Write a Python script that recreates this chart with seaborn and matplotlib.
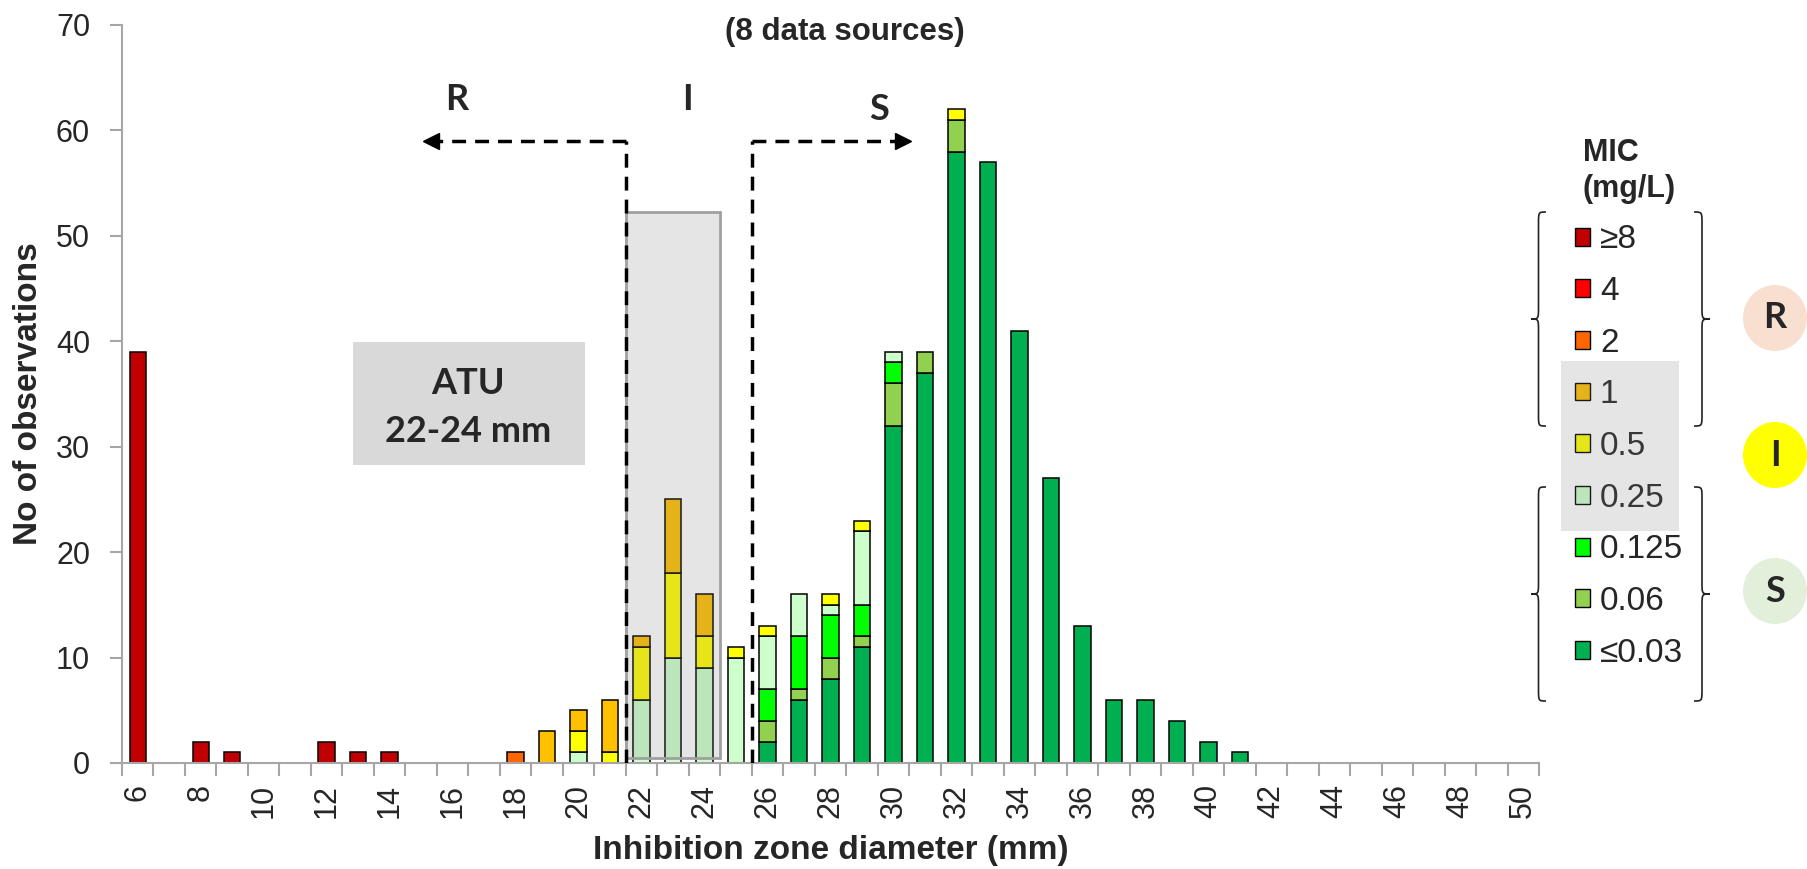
import numpy as np
import pandas as pd
import matplotlib
matplotlib.use("Agg")
import matplotlib.pyplot as plt
from matplotlib import font_manager
from matplotlib.patches import Rectangle, Ellipse, PathPatch, Patch
from matplotlib.path import Path
import seaborn as sns

# ---- data: number of isolates per inhibition zone diameter, split by MIC (mg/L) ----
diameters = list(range(6, 51))
mic_levels = ["≥8", "4", "2", "1", "0.5", "0.25", "0.125", "0.06", "≤0.03"]
mic_colors = ["#C00000", "#FF0000", "#FF6600", "#FFC000", "#FFFF00",
              "#CCFFCC", "#00FF00", "#92D050", "#00B050"]

counts_ge8 = {6: 39, 8: 2, 9: 1, 12: 2, 13: 1, 14: 1}
counts_4 = {}
counts_2 = {18: 1}
counts_1 = {19: 3, 20: 2, 21: 5, 22: 1, 23: 7, 24: 4}
counts_05 = {20: 2, 21: 1, 22: 5, 23: 8, 24: 3, 25: 1, 26: 1, 28: 1, 29: 1, 32: 1}
counts_025 = {20: 1, 22: 6, 23: 10, 24: 9, 25: 10, 26: 5, 27: 4, 28: 1, 29: 7, 30: 1}
counts_0125 = {26: 3, 27: 5, 28: 4, 29: 3, 30: 2}
counts_006 = {26: 2, 27: 1, 28: 2, 29: 1, 30: 4, 31: 2, 32: 3}
counts_le003 = {26: 2, 27: 6, 28: 8, 29: 11, 30: 32, 31: 37, 32: 58, 33: 57,
                34: 41, 35: 27, 36: 13, 37: 6, 38: 6, 39: 4, 40: 2, 41: 1}

tick_labels = [str(d) for d in range(6, 51, 2)]

series = [counts_ge8, counts_4, counts_2, counts_1, counts_05,
          counts_025, counts_0125, counts_006, counts_le003]
rows = []
for level, table in zip(mic_levels, series):
    for d, n in table.items():
        rows.append({"diameter": d, "mic": level, "count": n})
df = pd.DataFrame(rows)

# ---- fonts ----
sns.set_style("ticks")
plt.rcParams["font.family"] = ["Liberation Sans", "DejaVu Sans"]
installed = {f.name for f in font_manager.fontManager.ttflist}
if "Liberation Sans Narrow" in installed:
    label_font, label_size = "Liberation Sans Narrow", 29
else:
    label_font, label_size = "Liberation Sans", 24
callout_font = "Lato" if "Lato" in installed else "DejaVu Sans"

W, H = 1807, 869
fig = plt.figure(figsize=(W / 100, H / 100), dpi=100)
ax = fig.add_axes([122 / W, 106 / H, 1417 / W, 738 / H])

palette = dict(zip(mic_levels, mic_colors))
sns.histplot(data=df, x="diameter", hue="mic", weights="count",
             hue_order=mic_levels, palette=palette, multiple="stack",
             discrete=True, shrink=0.52, alpha=1, edgecolor="black",
             linewidth=1.1, legend=False, ax=ax)

# hide empty stack segments
for p in ax.patches:
    if p.get_height() == 0:
        p.set_visible(False)

ax.set_xlim(5.5, 50.5)
ax.set_ylim(0, 70)

axis_grey = "#A6A6A6"
for side in ("top", "right"):
    ax.spines[side].set_visible(False)
for side in ("left", "bottom"):
    ax.spines[side].set_color(axis_grey)
    ax.spines[side].set_linewidth(1.5)

ax.set_yticks(range(0, 71, 10))
ax.set_xticks(range(6, 51, 2))
ax.set_xticklabels(tick_labels, rotation=90)
ax.set_xticks(np.arange(5.5, 51, 1), minor=True)
ax.tick_params(axis="y", length=9, width=1.5, color=axis_grey, labelsize=22, pad=14)
ax.tick_params(axis="x", which="major", length=0, labelsize=22, pad=15)
ax.tick_params(axis="x", which="minor", length=9, width=1.5, color=axis_grey)

ax.set_xlabel("Inhibition zone diameter (mm)", fontfamily=[label_font, "DejaVu Sans"],
              fontsize=label_size, fontweight="bold")
ax.set_ylabel("No of observations", fontfamily=[label_font, "DejaVu Sans"],
              fontsize=label_size, fontweight="bold")
ax.xaxis.set_label_coords(0.5, -0.098)
ax.yaxis.set_label_coords(-0.055, 0.5)

ax.text(28.45, 69.3, "(8 data sources)", ha="center", va="center",
        fontsize=22.5, fontweight="bold")

# area of technical uncertainty
ax.add_patch(Rectangle((21.5, 0.5), 3, 51.8, facecolor=(0.5, 0.5, 0.5, 0.2),
                       edgecolor="#A0A0A0", linewidth=2, zorder=3))
ax.add_patch(Rectangle((12.85, 28.3), 7.35, 11.6, facecolor="#D9D9D9",
                       edgecolor="none", zorder=2))
ax.text(16.5, 36.0, "ATU", ha="center", va="center", fontsize=26,
        fontweight="bold", fontfamily=callout_font, zorder=4)
ax.text(16.5, 31.4, "22-24 mm", ha="center", va="center", fontsize=26,
        fontweight="bold", fontfamily=callout_font, zorder=4)

# breakpoint arrows
dash = (0, (4, 2.6))
y_arrow = 59
ax.plot([21.5, 21.5], [0, y_arrow], color="black", lw=2.5, ls=dash, zorder=5)
ax.plot([21.5, 15.5], [y_arrow, y_arrow], color="black", lw=2.5, ls=dash, zorder=5)
ax.plot([15.3], [y_arrow], marker="<", ms=11, color="black", zorder=5)
ax.plot([25.5, 25.5], [0, y_arrow], color="black", lw=2.5, ls=dash, zorder=5)
ax.plot([25.5, 30.1], [y_arrow, y_arrow], color="black", lw=2.5, ls=dash, zorder=5)
ax.plot([30.3], [y_arrow], marker=">", ms=11, color="black", zorder=5)

for label, (x, y) in {"R": (16.14, 62.9), "I": (23.47, 62.9), "S": (29.54, 62.0)}.items():
    ax.text(x, y, label, ha="center", va="center", fontsize=26,
            fontweight="bold", fontfamily=callout_font)

# ---- legend panel (pixel coordinates, y downwards) ----
ov = fig.add_axes([0, 0, 1, 1], zorder=10)
ov.set_xlim(0, W)
ov.set_ylim(H, 0)
ov.axis("off")
ov.patch.set_alpha(0)

handles = [Patch(facecolor=c, edgecolor="black", linewidth=1.0) for c in mic_colors]
leg = ov.legend(handles, mic_levels, loc="upper left", bbox_to_anchor=(1575, 138),
                bbox_transform=ov.transData, frameon=False, fontsize=24,
                handlelength=0.45, handleheight=0.45, handletextpad=0.3,
                labelspacing=0.62, borderpad=0, borderaxespad=0,
                title="MIC\n(mg/L)",
                title_fontproperties={"weight": "bold", "size": 22})
leg.get_title().set_linespacing(1.25)
leg.set_zorder(5)
ov.add_patch(Rectangle((1561, 361), 118, 170, facecolor=(0.5, 0.5, 0.5, 0.2),
                       edgecolor="none", zorder=6))


def brace(x_arm, x_tip, y0, y1, r=12):
    xm = (x_arm + x_tip) / 2
    ym = (y0 + y1) / 2
    verts = [(x_arm, y0), (xm, y0), (xm, y0), (xm, y0 + r),
             (xm, ym - r), (xm, ym), (xm, ym), (x_tip, ym),
             (xm, ym), (xm, ym), (xm, ym + r),
             (xm, y1 - r), (xm, y1), (xm, y1), (x_arm, y1)]
    codes = [Path.MOVETO, Path.CURVE4, Path.CURVE4, Path.CURVE4,
             Path.LINETO, Path.CURVE4, Path.CURVE4, Path.CURVE4,
             Path.CURVE4, Path.CURVE4, Path.CURVE4,
             Path.LINETO, Path.CURVE4, Path.CURVE4, Path.CURVE4]
    ov.add_patch(PathPatch(Path(verts, codes), facecolor="none",
                           edgecolor="#222222", linewidth=1.2, zorder=7))


brace(1546, 1531, 212, 426)
brace(1694, 1710, 212, 426)
brace(1546, 1531, 487, 701)
brace(1694, 1710, 487, 701)

for label, yc, col in [("R", 318, "#F9DFD0"), ("I", 455, "#FFFF00"), ("S", 591, "#E2EFDA")]:
    ov.add_patch(Ellipse((1775, yc), 64, 66, facecolor=col, edgecolor="none", zorder=7))
    ov.text(1775, yc, label, ha="center", va="center", fontsize=26,
            fontweight="bold", fontfamily=callout_font, zorder=8)

fig.savefig("out.png", dpi=100)
